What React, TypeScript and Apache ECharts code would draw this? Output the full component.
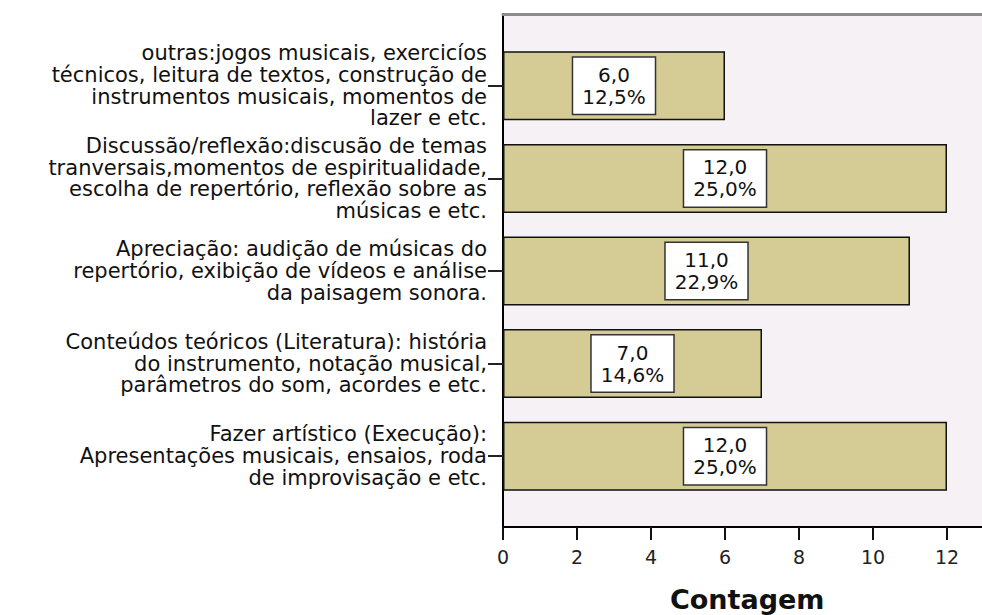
import React, { useEffect, useRef } from "react";
import * as echarts from "echarts";

const categories = [
  "outras:jogos musicais, exercicíos\ntécnicos, leitura de textos, construção de\ninstrumentos musicais, momentos de\nlazer e etc.",
  "Discussão/reflexão:discusão de temas\ntranversais,momentos de espiritualidade,\nescolha de repertório, reflexão sobre as\nmúsicas e etc.",
  "Apreciação: audição de músicas do\nrepertório, exibição de vídeos e análise\nda paisagem sonora.",
  "Conteúdos teóricos (Literatura): história\ndo instrumento, notação musical,\nparâmetros do som, acordes e etc.",
  "Fazer artístico (Execução):\nApresentações musicais, ensaios, roda\nde improvisação e etc.",
];
const counts = [6, 12, 11, 7, 12];
const percents = [12.5, 25.0, 22.9, 14.6, 25.0];
const axisMin = 0;
const axisMax = 13.2;
const axisInterval = 2;
const axisTitle = "Contagem";

const fmt = (v: number) => v.toFixed(1).replace(".", ",");
const FONT = "DejaVu Sans";

export default function App() {
  const ref = useRef<HTMLDivElement>(null);
  useEffect(() => {
    if (!ref.current) return;
    const chart = echarts.init(ref.current, undefined, { renderer: "svg" });
    const gridLeft = 503;
    const gridWidth = (axisMax - axisMin) * 37;
    chart.setOption({
      animation: false,
      backgroundColor: "#ffffff",
      grid: [
        {
          left: gridLeft,
          top: 14,
          width: gridWidth,
          height: 513,
          show: true,
          backgroundColor: "#f6f1f5",
          borderWidth: 0,
          containLabel: false,
          outerBoundsMode: "none",
        },
        {
          left: gridLeft,
          top: 39.5,
          width: gridWidth,
          height: 463,
          containLabel: false,
          outerBoundsMode: "none",
        },
      ],
      xAxis: [
        {
          gridIndex: 0,
          type: "value",
          min: axisMin,
          max: axisMax,
          interval: axisInterval,
          position: "bottom",
          axisLine: { show: true, onZero: false, lineStyle: { color: "#000", width: 2 } },
          axisTick: { show: true, length: 13, lineStyle: { color: "#111", width: 2 } },
          axisLabel: {
            show: true,
            margin: 20,
            showMaxLabel: false,
            fontFamily: FONT,
            fontSize: 19,
            color: "#222",
          },
          splitLine: { show: false },
          name: axisTitle,
          nameLocation: "middle",
          nameGap: 58,
          nameTextStyle: { fontFamily: FONT, fontSize: 27, lineHeight: 28, fontWeight: "bold", color: "#111" },
        },
        {
          gridIndex: 1,
          type: "value",
          min: axisMin,
          max: axisMax,
          interval: axisInterval,
          show: false,
        },
        {
          gridIndex: 0,
          type: "value",
          min: axisMin,
          max: axisMax,
          interval: axisInterval,
          position: "top",
          axisLine: { show: true, onZero: false, lineStyle: { color: "#8c8c8c", width: 3 } },
          axisTick: { show: false },
          axisLabel: { show: false },
          splitLine: { show: false },
        },
      ],
      yAxis: [
        {
          gridIndex: 0,
          type: "value",
          min: 0,
          max: 1,
          axisLine: { show: true, onZero: false, lineStyle: { color: "#000", width: 2 } },
          axisTick: { show: false },
          axisLabel: { show: false },
          splitLine: { show: false },
        },
        {
          gridIndex: 1,
          type: "category",
          inverse: true,
          data: categories,
          axisLine: { show: false },
          axisTick: { show: true, length: 15, alignWithLabel: true, lineStyle: { color: "#222", width: 2 } },
          axisLabel: {
            margin: 16,
            fontFamily: FONT,
            fontSize: 21,
            lineHeight: 21.8,
            color: "#111",
            align: "right",
          },
        },
      ],
      series: [
        {
          type: "line",
          xAxisIndex: 0,
          yAxisIndex: 0,
          data: [],
        },
        {
          type: "bar",
          xAxisIndex: 1,
          yAxisIndex: 1,
          data: counts,
          barWidth: 69,
          itemStyle: { color: "#d4cc94", borderColor: "#111", borderWidth: 1.5 },
          label: {
            show: true,
            position: "inside",
            formatter: (p: any) => `${fmt(counts[p.dataIndex])}\n${fmt(percents[p.dataIndex])}%`,
            fontFamily: FONT,
            fontSize: 20,
            lineHeight: 22,
            color: "#111",
            backgroundColor: "#ffffff",
            borderColor: "#333",
            borderWidth: 1.5,
            padding: [6, 9],
            align: "center",
          },
        },
      ],
    });
    return () => chart.dispose();
  }, []);
  return (
    <div
      ref={ref}
      style={{ position: "fixed", left: 0, top: 0, width: 982, height: 615 }}
    />
  );
}
